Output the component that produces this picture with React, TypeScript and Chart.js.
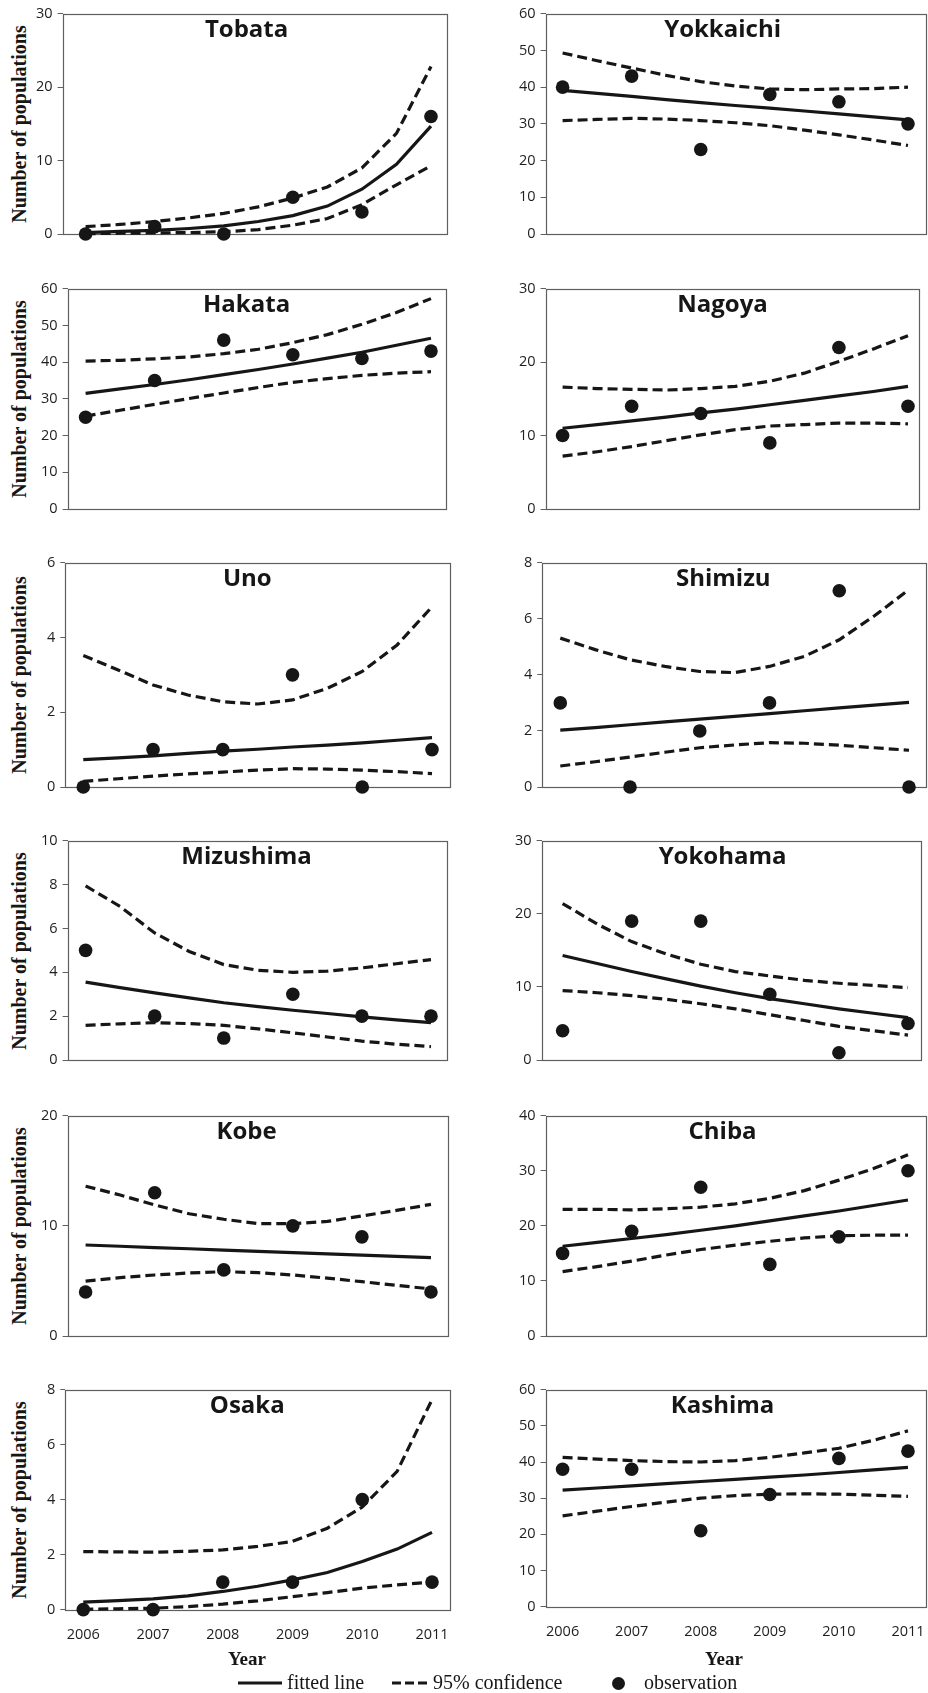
import React, { useEffect, useRef } from "react";
import { Chart, registerables } from "chart.js";

Chart.register(...registerables);

// ---------- data ----------
const YEARS = [2006, 2007, 2008, 2009, 2010, 2011];
const CURVE_YEARS = [2006, 2006.5, 2007, 2007.5, 2008, 2008.5, 2009, 2009.5, 2010, 2010.5, 2011];
const YEAR_LABELS = ["2006", "2007", "2008", "2009", "2010", "2011"];

const TICKS_6 = [0, 2, 4, 6];
const TICKS_8 = [0, 2, 4, 6, 8];
const TICKS_10 = [0, 2, 4, 6, 8, 10];
const TICKS_20 = [0, 10, 20];
const TICKS_30 = [0, 10, 20, 30];
const TICKS_40 = [0, 10, 20, 30, 40];
const TICKS_60 = [0, 10, 20, 30, 40, 50, 60];

const TOBATA_OBS = [0, 1, 0, 5, 3, 16];
const TOBATA_FIT = [0.2, 0.35, 0.5, 0.75, 1.1, 1.7, 2.5, 3.8, 6.1, 9.5, 14.7];
const TOBATA_UPPER = [1.0, 1.3, 1.7, 2.2, 2.8, 3.7, 4.9, 6.4, 9.0, 13.7, 22.8];
const TOBATA_LOWER = [0.05, 0.1, 0.15, 0.2, 0.3, 0.6, 1.2, 2.1, 4.0, 6.7, 9.3];

const YOKKAICHI_OBS = [40, 43, 23, 38, 36, 30];
const YOKKAICHI_FIT = [39.1, 38.3, 37.5, 36.6, 35.8, 35.0, 34.3, 33.5, 32.7, 31.9, 31.1];
const YOKKAICHI_UPPER = [49.3, 47.2, 45.2, 43.2, 41.5, 40.3, 39.5, 39.3, 39.5, 39.6, 40.0];
const YOKKAICHI_LOWER = [30.9, 31.2, 31.5, 31.3, 30.9, 30.3, 29.5, 28.3, 27.0, 25.6, 24.1];

const HAKATA_OBS = [25, 35, 46, 42, 41, 43];
const HAKATA_FIT = [31.5, 32.7, 33.9, 35.2, 36.6, 38.0, 39.5, 41.1, 42.7, 44.6, 46.5];
const HAKATA_UPPER = [40.3, 40.5, 40.9, 41.4, 42.3, 43.5, 45.3, 47.5, 50.3, 53.5, 57.3];
const HAKATA_LOWER = [25.3, 26.9, 28.5, 30.1, 31.6, 33.1, 34.5, 35.5, 36.4, 37.0, 37.4];

const NAGOYA_OBS = [10, 14, 13, 9, 22, 14];
const NAGOYA_FIT = [11.0, 11.5, 12.0, 12.5, 13.1, 13.6, 14.2, 14.8, 15.4, 16.0, 16.7];
const NAGOYA_UPPER = [16.6, 16.4, 16.3, 16.2, 16.4, 16.7, 17.4, 18.5, 20.1, 21.8, 23.6];
const NAGOYA_LOWER = [7.2, 7.8, 8.5, 9.3, 10.1, 10.8, 11.3, 11.5, 11.7, 11.7, 11.6];

const UNO_OBS = [0, 1, 1, 3, 0, 1];
const UNO_FIT = [0.73, 0.78, 0.83, 0.9, 0.96, 1.01, 1.07, 1.12, 1.18, 1.25, 1.32];
const UNO_UPPER = [3.52, 3.13, 2.73, 2.46, 2.28, 2.22, 2.33, 2.64, 3.09, 3.8, 4.82];
const UNO_LOWER = [0.15, 0.22, 0.29, 0.35, 0.4, 0.45, 0.49, 0.48, 0.45, 0.41, 0.36];

const SHIMIZU_OBS = [3, 0, 2, 3, 7, 0];
const SHIMIZU_FIT = [2.03, 2.12, 2.22, 2.32, 2.42, 2.52, 2.62, 2.72, 2.82, 2.92, 3.02];
const SHIMIZU_UPPER = [5.31, 4.9, 4.54, 4.3, 4.12, 4.08, 4.3, 4.66, 5.25, 6.1, 7.04];
const SHIMIZU_LOWER = [0.75, 0.9, 1.07, 1.24, 1.4, 1.5, 1.58, 1.56, 1.49, 1.4, 1.31];

const MIZUSHIMA_OBS = [5, 2, 1, 3, 2, 2];
const MIZUSHIMA_FIT = [3.55, 3.3, 3.06, 2.83, 2.61, 2.43, 2.27, 2.12, 1.97, 1.83, 1.7];
const MIZUSHIMA_UPPER = [7.94, 7.0, 5.79, 4.95, 4.35, 4.09, 4.0, 4.05, 4.2, 4.39, 4.58];
const MIZUSHIMA_LOWER = [1.58, 1.65, 1.7, 1.66, 1.58, 1.42, 1.24, 1.05, 0.86, 0.72, 0.61];

const YOKOHAMA_OBS = [4, 19, 19, 9, 1, 5];
const YOKOHAMA_FIT = [14.3, 13.2, 12.1, 11.1, 10.1, 9.2, 8.4, 7.7, 7.0, 6.4, 5.8];
const YOKOHAMA_UPPER = [21.4, 18.6, 16.2, 14.5, 13.1, 12.1, 11.5, 10.9, 10.5, 10.2, 9.9];
const YOKOHAMA_LOWER = [9.5, 9.2, 8.8, 8.3, 7.7, 7.0, 6.2, 5.4, 4.6, 4.0, 3.4];

const KOBE_OBS = [4, 13, 6, 10, 9, 4];
const KOBE_FIT = [8.26, 8.15, 8.03, 7.92, 7.8, 7.69, 7.57, 7.46, 7.34, 7.22, 7.11];
const KOBE_UPPER = [13.6, 12.8, 11.9, 11.1, 10.6, 10.2, 10.2, 10.4, 10.9, 11.4, 11.95];
const KOBE_LOWER = [4.99, 5.3, 5.54, 5.72, 5.84, 5.75, 5.54, 5.25, 4.93, 4.6, 4.27];

const CHIBA_OBS = [15, 19, 27, 13, 18, 30];
const CHIBA_FIT = [16.3, 17.0, 17.7, 18.4, 19.2, 20.0, 20.9, 21.8, 22.7, 23.7, 24.7];
const CHIBA_UPPER = [23.0, 23.0, 22.9, 23.1, 23.4, 24.0, 25.0, 26.4, 28.3, 30.4, 32.9];
const CHIBA_LOWER = [11.7, 12.6, 13.6, 14.7, 15.7, 16.5, 17.2, 17.8, 18.2, 18.3, 18.3];

const OSAKA_OBS = [0, 0, 1, 1, 4, 1];
const OSAKA_FIT = [0.27, 0.33, 0.39, 0.5, 0.66, 0.85, 1.08, 1.35, 1.75, 2.2, 2.81];
const OSAKA_UPPER = [2.11, 2.1, 2.09, 2.12, 2.17, 2.3, 2.48, 2.96, 3.73, 5.03, 7.64];
const OSAKA_LOWER = [0.01, 0.03, 0.05, 0.11, 0.2, 0.32, 0.47, 0.62, 0.78, 0.9, 1.0];

const KASHIMA_OBS = [38, 38, 21, 31, 41, 43];
const KASHIMA_FIT = [32.2, 32.8, 33.4, 34.0, 34.6, 35.2, 35.8, 36.4, 37.1, 37.8, 38.5];
const KASHIMA_UPPER = [41.3, 40.8, 40.4, 40.1, 40.0, 40.4, 41.3, 42.5, 43.8, 46.0, 48.6];
const KASHIMA_LOWER = [25.1, 26.4, 27.7, 28.9, 30.0, 30.7, 31.1, 31.2, 31.1, 30.8, 30.5];

const PANELS = [
  { name: "Tobata", obs: TOBATA_OBS, fit: TOBATA_FIT, upper: TOBATA_UPPER, lower: TOBATA_LOWER, ticks: TICKS_30 },
  { name: "Yokkaichi", obs: YOKKAICHI_OBS, fit: YOKKAICHI_FIT, upper: YOKKAICHI_UPPER, lower: YOKKAICHI_LOWER, ticks: TICKS_60 },
  { name: "Hakata", obs: HAKATA_OBS, fit: HAKATA_FIT, upper: HAKATA_UPPER, lower: HAKATA_LOWER, ticks: TICKS_60 },
  { name: "Nagoya", obs: NAGOYA_OBS, fit: NAGOYA_FIT, upper: NAGOYA_UPPER, lower: NAGOYA_LOWER, ticks: TICKS_30 },
  { name: "Uno", obs: UNO_OBS, fit: UNO_FIT, upper: UNO_UPPER, lower: UNO_LOWER, ticks: TICKS_6 },
  { name: "Shimizu", obs: SHIMIZU_OBS, fit: SHIMIZU_FIT, upper: SHIMIZU_UPPER, lower: SHIMIZU_LOWER, ticks: TICKS_8 },
  { name: "Mizushima", obs: MIZUSHIMA_OBS, fit: MIZUSHIMA_FIT, upper: MIZUSHIMA_UPPER, lower: MIZUSHIMA_LOWER, ticks: TICKS_10 },
  { name: "Yokohama", obs: YOKOHAMA_OBS, fit: YOKOHAMA_FIT, upper: YOKOHAMA_UPPER, lower: YOKOHAMA_LOWER, ticks: TICKS_30 },
  { name: "Kobe", obs: KOBE_OBS, fit: KOBE_FIT, upper: KOBE_UPPER, lower: KOBE_LOWER, ticks: TICKS_20 },
  { name: "Chiba", obs: CHIBA_OBS, fit: CHIBA_FIT, upper: CHIBA_UPPER, lower: CHIBA_LOWER, ticks: TICKS_40 },
  { name: "Osaka", obs: OSAKA_OBS, fit: OSAKA_FIT, upper: OSAKA_UPPER, lower: OSAKA_LOWER, ticks: TICKS_8 },
  { name: "Kashima", obs: KASHIMA_OBS, fit: KASHIMA_FIT, upper: KASHIMA_UPPER, lower: KASHIMA_LOWER, ticks: TICKS_60 },
];

// ---------- layout (page pixels) ----------
const LAYOUT = [
  { left: 63, right: 447, top: 14, bottom: 234, x0: 86, x1: 431, titleX: 247, xLabels: false, yTitle: true },
  { left: 546, right: 926, top: 14, bottom: 234, x0: 563, x1: 908, titleX: 723, xLabels: false, yTitle: false },
  { left: 68, right: 446, top: 289, bottom: 509, x0: 86, x1: 431, titleX: 247, xLabels: false, yTitle: true },
  { left: 546, right: 919, top: 289, bottom: 509, x0: 563, x1: 908, titleX: 723, xLabels: false, yTitle: false },
  { left: 65, right: 450, top: 563, bottom: 787, x0: 83, x1: 432, titleX: 247, xLabels: false, yTitle: true },
  { left: 542, right: 926, top: 563, bottom: 787, x0: 560, x1: 909, titleX: 723, xLabels: false, yTitle: false },
  { left: 68, right: 447, top: 841, bottom: 1060, x0: 86, x1: 431, titleX: 247, xLabels: false, yTitle: true },
  { left: 542, right: 921, top: 841, bottom: 1060, x0: 563, x1: 908, titleX: 723, xLabels: false, yTitle: false },
  { left: 68, right: 448, top: 1116, bottom: 1336, x0: 86, x1: 431, titleX: 247, xLabels: false, yTitle: true },
  { left: 546, right: 926, top: 1116, bottom: 1336, x0: 563, x1: 908, titleX: 723, xLabels: false, yTitle: false },
  { left: 65, right: 450, top: 1390, bottom: 1610, x0: 83, x1: 432, titleX: 247, xLabels: true, yTitle: true },
  { left: 546, right: 926, top: 1390, bottom: 1607, x0: 563, x1: 908, titleX: 723, xLabels: true, yTitle: false },
];

const INK = "#161616";
const AXIS = "#5f5f5f";
const TICK_TEXT = "#1e1e1e";
const SANS = '"Open Sans", "Liberation Sans", sans-serif';
const SERIF = '"Liberation Serif", "Times New Roman", serif';

type PanelData = (typeof PANELS)[number];
type Box = (typeof LAYOUT)[number];

function Panel({ panel, box }: { panel: PanelData; box: Box }) {
  const ref = useRef<HTMLCanvasElement>(null);

  useEffect(() => {
    const canvas = ref.current as HTMLCanvasElement;
    const step = (box.x1 - box.x0) / 5;
    const xMin = YEARS[0] - (box.x0 - box.left) / step;
    const xMax = YEARS[YEARS.length - 1] + (box.right - box.x1) / step;
    const plotW = box.right - box.left;
    const plotH = box.bottom - box.top;
    const yTicks = panel.ticks;

    const frameAndTitle = {
      id: "frameAndTitle",
      beforeDatasetsDraw(c: any) {
        const { ctx, chartArea: a } = c;
        ctx.save();
        ctx.strokeStyle = AXIS;
        ctx.lineWidth = 1.2;
        ctx.strokeRect(
          Math.round(a.left) + 0.5,
          Math.round(a.top) + 0.5,
          Math.round(a.right) - Math.round(a.left),
          Math.round(a.bottom) - Math.round(a.top)
        );
        ctx.restore();
      },
      afterDatasetsDraw(c: any) {
        const { ctx, chartArea: a } = c;
        ctx.save();
        ctx.fillStyle = INK;
        ctx.font = `bold 24px ${SANS}`;
        ctx.textAlign = "center";
        ctx.textBaseline = "alphabetic";
        ctx.fillText(panel.name, a.left + (box.titleX - box.left), a.top + 23);
        ctx.restore();
      },
    };

    const line = (vals: number[], dashed: boolean) => ({
      type: "line" as const,
      data: CURVE_YEARS.map((x, i) => ({ x, y: vals[i] })),
      showLine: true,
      borderColor: INK,
      backgroundColor: INK,
      borderWidth: 3.2,
      borderDash: dashed ? [10, 5] : [],
      pointRadius: 0,
      pointHoverRadius: 0,
      tension: 0,
      fill: false,
      clip: false as const,
    });

    const build = () =>
      new Chart(canvas, {
        type: "scatter",
        data: {
          datasets: [
            {
              label: "observation",
              data: YEARS.map((x, i) => ({ x, y: panel.obs[i] })),
              showLine: false,
              pointRadius: 6.8,
              pointHoverRadius: 6.8,
              pointBackgroundColor: INK,
              pointBorderColor: INK,
              pointBorderWidth: 0,
              clip: false as const,
            },
            { label: "fitted line", ...line(panel.fit, false) },
            { label: "95% upper", ...line(panel.upper, true) },
            { label: "95% lower", ...line(panel.lower, true) },
          ] as any,
        },
        options: {
          animation: false,
          responsive: false,
          maintainAspectRatio: false,
          devicePixelRatio: 1,
          events: [],
          layout: { padding: { top: 10, bottom: 10, left: 0, right: 10 } },
          plugins: { legend: { display: false }, tooltip: { enabled: false } },
          scales: {
            x: {
              type: "linear",
              min: xMin,
              max: xMax,
              afterBuildTicks: (s: any) => {
                s.ticks = YEARS.map((v) => ({ value: v }));
              },
              ticks: {
                display: box.xLabels,
                autoSkip: false,
                maxRotation: 0,
                padding: 9,
                color: TICK_TEXT,
                font: { family: SANS, size: 14.5 },
                callback: (_v: any, i: number) => YEAR_LABELS[i],
              },
              grid: { display: false },
              border: { display: false },
            },
            y: {
              type: "linear",
              min: yTicks[0],
              max: yTicks[yTicks.length - 1],
              afterBuildTicks: (s: any) => {
                s.ticks = yTicks.map((v) => ({ value: v }));
              },
              ticks: {
                padding: 5,
                color: TICK_TEXT,
                font: { family: SANS, size: 14.5 },
                callback: (v: any) => String(v),
              },
              grid: {
                display: true,
                drawOnChartArea: false,
                drawTicks: true,
                tickLength: 5,
                color: AXIS,
                lineWidth: 1,
              },
              border: { display: false },
            },
          },
        },
        plugins: [frameAndTitle],
      } as any);

    let w = plotW + 80;
    let h = plotH + 60;
    const apply = () => {
      canvas.width = w;
      canvas.height = h;
      canvas.style.width = w + "px";
      canvas.style.height = h + "px";
    };
    apply();
    let chart = build();
    let ca = chart.chartArea;
    w = Math.round(w + plotW - (ca.right - ca.left));
    h = Math.round(h + plotH - (ca.bottom - ca.top));
    chart.destroy();
    apply();
    chart = build();
    ca = chart.chartArea;
    canvas.style.position = "absolute";
    canvas.style.left = Math.round(box.left - ca.left) + "px";
    canvas.style.top = Math.round(box.top - ca.top) + "px";

    return () => {
      chart.destroy();
    };
  }, []);

  return <canvas ref={ref} style={{ position: "absolute", left: 0, top: 0 }} />;
}

function LegendLine({ x1, x2, y, dashed }: { x1: number; x2: number; y: number; dashed: boolean }) {
  return (
    <svg
      style={{ position: "absolute", left: x1, top: y - 4, overflow: "visible" }}
      width={x2 - x1}
      height={8}
    >
      <line
        x1={0}
        y1={4}
        x2={x2 - x1}
        y2={4}
        stroke={INK}
        strokeWidth={3.2}
        strokeDasharray={dashed ? "9 4" : undefined}
      />
    </svg>
  );
}

export default function App() {
  const textBase: React.CSSProperties = {
    position: "absolute",
    whiteSpace: "nowrap",
    color: INK,
    margin: 0,
  };
  return (
    <div
      style={{
        position: "absolute",
        left: 0,
        top: 0,
        width: 928,
        height: 1693,
        background: "#ffffff",
        overflow: "hidden",
      }}
    >
      {PANELS.map((p, i) => (
        <Panel key={p.name} panel={p} box={LAYOUT[i]} />
      ))}
      {LAYOUT.map((b, i) =>
        b.yTitle ? (
          <div
            key={"yt" + i}
            style={{
              ...textBase,
              left: 18.5,
              top: (b.top + b.bottom) / 2,
              transform: "translate(-50%, -50%) rotate(-90deg)",
              font: `bold 20px ${SERIF}`,
              lineHeight: "20px",
            }}
          >
            Number of populations
          </div>
        ) : null
      )}
      <div
        style={{
          ...textBase,
          left: 247,
          top: 1649,
          transform: "translateX(-50%)",
          font: `bold 19px ${SERIF}`,
          lineHeight: "19px",
        }}
      >
        Year
      </div>
      <div
        style={{
          ...textBase,
          left: 724,
          top: 1649,
          transform: "translateX(-50%)",
          font: `bold 19px ${SERIF}`,
          lineHeight: "19px",
        }}
      >
        Year
      </div>
      <LegendLine x1={238} x2={282} y={1683} dashed={false} />
      <div style={{ ...textBase, left: 287, top: 1672, font: `20px ${SERIF}`, lineHeight: "20px" }}>
        fitted line
      </div>
      <LegendLine x1={392} x2={430} y={1683} dashed={true} />
      <div style={{ ...textBase, left: 433, top: 1672, font: `20px ${SERIF}`, lineHeight: "20px" }}>
        95% confidence
      </div>
      <div
        style={{
          position: "absolute",
          left: 612,
          top: 1677,
          width: 13,
          height: 13,
          borderRadius: "50%",
          background: INK,
        }}
      />
      <div style={{ ...textBase, left: 644, top: 1672, font: `20px ${SERIF}`, lineHeight: "20px" }}>
        observation
      </div>
    </div>
  );
}
